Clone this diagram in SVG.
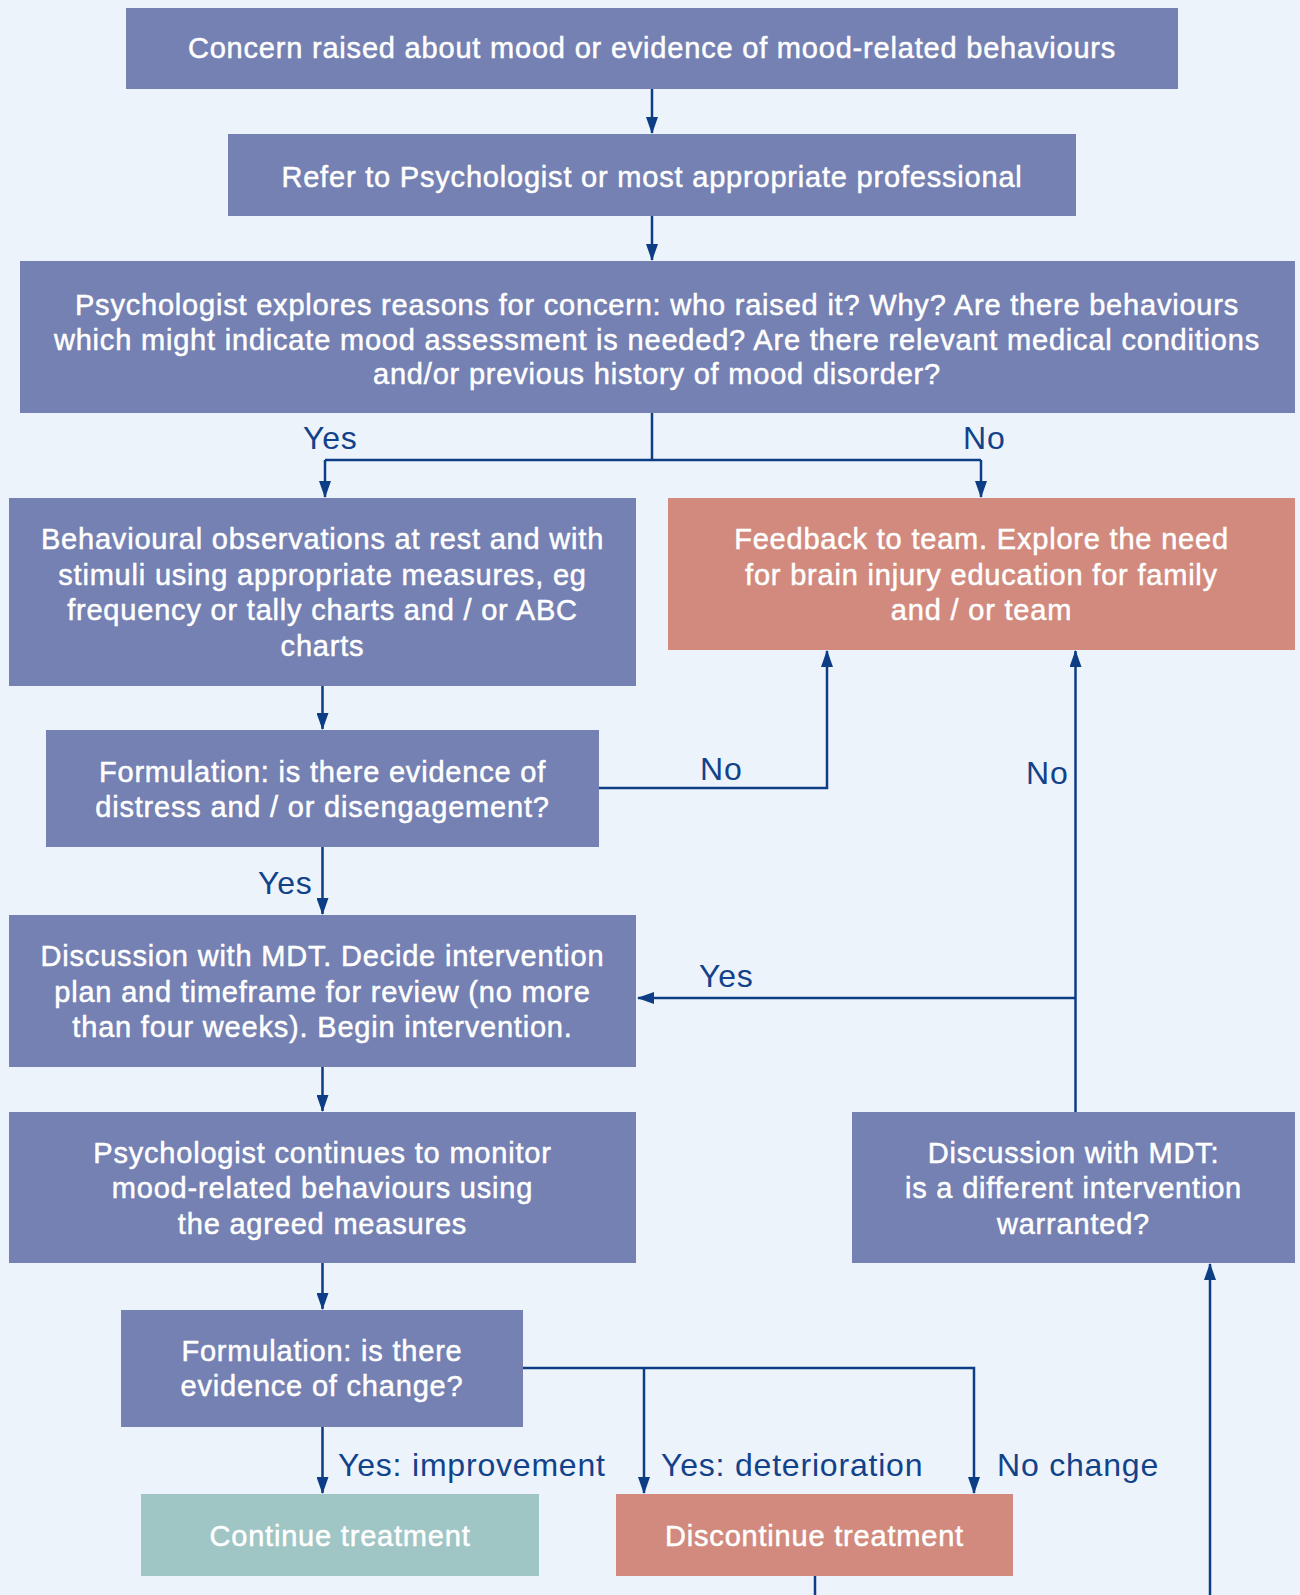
<svg xmlns="http://www.w3.org/2000/svg" width="1300" height="1595" viewBox="0 0 1300 1595">
<style>
.bg{fill:#ECF3FB}
.b{fill:#7581B2}
.s{fill:#D18A7D}
.t{fill:#9FC5C4}
.bt{font-family:"Liberation Sans",Arial,sans-serif;font-size:29px;letter-spacing:0.8px;fill:#FFFFFF;text-anchor:middle;stroke:#FFFFFF;stroke-width:0.5px}
.lb{font-family:"Liberation Sans",Arial,sans-serif;font-size:32px;letter-spacing:0.8px;fill:#12428A}
.c{fill:none;stroke:#0D3D85;stroke-width:2.5}
</style>
<defs>
<marker id="ah" markerUnits="userSpaceOnUse" markerWidth="17" markerHeight="12" viewBox="0 0 17 12" refX="16" refY="6" orient="auto">
<path d="M0,0 L17,6 L0,12 z" fill="#0D3D85"/>
</marker>
</defs>
<rect class="bg" x="0" y="0" width="1300" height="1595"/>
<g id="connectors">
<path class="c" d="M652,89 V133" marker-end="url(#ah)"/>
<path class="c" d="M652,216 V260" marker-end="url(#ah)"/>
<path class="c" d="M652,413 V460"/>
<path class="c" d="M325,460 H981"/>
<path class="c" d="M325,460 V497" marker-end="url(#ah)"/>
<path class="c" d="M981,460 V497" marker-end="url(#ah)"/>
<path class="c" d="M322.5,686 V729" marker-end="url(#ah)"/>
<path class="c" d="M599,788 H827 V651" marker-end="url(#ah)"/>
<path class="c" d="M1075.5,1112 V651" marker-end="url(#ah)"/>
<path class="c" d="M1075.5,998 H638" marker-end="url(#ah)"/>
<path class="c" d="M322.5,847 V914" marker-end="url(#ah)"/>
<path class="c" d="M322.5,1067 V1111" marker-end="url(#ah)"/>
<path class="c" d="M322.5,1263 V1309" marker-end="url(#ah)"/>
<path class="c" d="M523,1368 H974 V1493" marker-end="url(#ah)"/>
<path class="c" d="M644,1368 V1493" marker-end="url(#ah)"/>
<path class="c" d="M322.5,1427 V1493" marker-end="url(#ah)"/>
<path class="c" d="M815,1576 V1595"/>
<path class="c" d="M1210,1595 V1264" marker-end="url(#ah)"/>
<text class="lb" x="303" y="449">Yes</text>
<text class="lb" x="963" y="449">No</text>
<text class="lb" x="700" y="780">No</text>
<text class="lb" x="1026" y="784">No</text>
<text class="lb" x="258" y="894">Yes</text>
<text class="lb" x="699" y="987">Yes</text>
<text class="lb" x="338" y="1476">Yes: improvement</text>
<text class="lb" x="661" y="1476">Yes: deterioration</text>
<text class="lb" x="997" y="1476">No change</text>
</g>
<g id="n1">
<rect class="b" x="126" y="8" width="1052" height="81"/>
<text class="bt" x="652" y="58">Concern raised about mood or evidence of mood-related behaviours</text>
</g>
<g id="n2">
<rect class="b" x="228" y="134" width="848" height="82"/>
<text class="bt" x="652" y="187">Refer to Psychologist or most appropriate professional</text>
</g>
<g id="n3">
<rect class="b" x="20" y="261" width="1275" height="152"/>
<text class="bt" x="657" y="315">Psychologist explores reasons for concern: who raised it? Why? Are there behaviours</text>
<text class="bt" x="657" y="349.5">which might indicate mood assessment is needed? Are there relevant medical conditions</text>
<text class="bt" x="657" y="384">and/or previous history of mood disorder?</text>
</g>
<g id="n4">
<rect class="b" x="9" y="498" width="627" height="188"/>
<text class="bt" x="322.5" y="549">Behavioural observations at rest and with</text>
<text class="bt" x="322.5" y="584.5">stimuli using appropriate measures, eg</text>
<text class="bt" x="322.5" y="620">frequency or tally charts and / or ABC</text>
<text class="bt" x="322.5" y="655.5">charts</text>
</g>
<g id="n5">
<rect class="s" x="668" y="498" width="627" height="152"/>
<text class="bt" x="981.5" y="549">Feedback to team. Explore the need</text>
<text class="bt" x="981.5" y="584.5">for brain injury education for family</text>
<text class="bt" x="981.5" y="620">and / or team</text>
</g>
<g id="n6">
<rect class="b" x="46" y="730" width="553" height="117"/>
<text class="bt" x="322.5" y="782">Formulation: is there evidence of</text>
<text class="bt" x="322.5" y="817">distress and / or disengagement?</text>
</g>
<g id="n7">
<rect class="b" x="9" y="915" width="627" height="152"/>
<text class="bt" x="322.5" y="966">Discussion with MDT. Decide intervention</text>
<text class="bt" x="322.5" y="1001.5">plan and timeframe for review (no more</text>
<text class="bt" x="322.5" y="1036.5">than four weeks). Begin intervention.</text>
</g>
<g id="n8">
<rect class="b" x="9" y="1112" width="627" height="151"/>
<text class="bt" x="322.5" y="1163">Psychologist continues to monitor</text>
<text class="bt" x="322.5" y="1198">mood-related behaviours using</text>
<text class="bt" x="322.5" y="1233.5">the agreed measures</text>
</g>
<g id="n9">
<rect class="b" x="852" y="1112" width="443" height="151"/>
<text class="bt" x="1073.5" y="1163">Discussion with MDT:</text>
<text class="bt" x="1073.5" y="1198">is a different intervention</text>
<text class="bt" x="1073.5" y="1233.5">warranted?</text>
</g>
<g id="n10">
<rect class="b" x="121" y="1310" width="402" height="117"/>
<text class="bt" x="322" y="1361">Formulation: is there</text>
<text class="bt" x="322" y="1396">evidence of change?</text>
</g>
<g id="n11">
<rect class="t" x="141" y="1494" width="398" height="82"/>
<text class="bt" x="340" y="1546">Continue treatment</text>
</g>
<g id="n12">
<rect class="s" x="616" y="1494" width="397" height="82"/>
<text class="bt" x="814.5" y="1546">Discontinue treatment</text>
</g>
</svg>
